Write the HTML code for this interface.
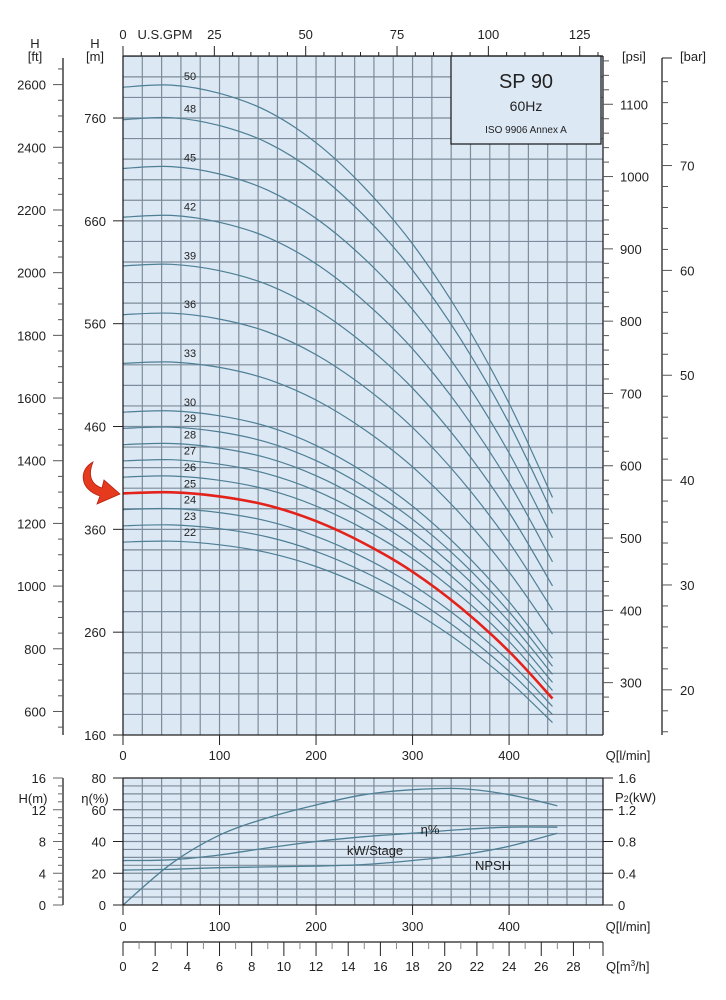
<!DOCTYPE html>
<html><head><meta charset="utf-8"><style>
html,body{margin:0;padding:0;background:#fff}
svg{display:block}
text{font-family:"Liberation Sans",sans-serif;fill:#222}
</style></head><body>
<svg id="c" width="726" height="1000" viewBox="0 0 726 1000" xmlns="http://www.w3.org/2000/svg">
<g id="g"></g>
</svg>
<script>
// ---- data ----
const flowPoints = [0, 50, 100, 150, 200, 250, 300, 350, 400, 445];
const headPerStage = [15.8, 15.84, 15.68, 15.33, 14.72, 13.85, 12.75, 11.35, 9.65, 7.82];
const stageCounts = [22, 23, 24, 25, 26, 27, 28, 29, 30, 33, 36, 39, 42, 45, 48, 50];
const highlightedStage = 25;
const effFlow = [0, 50, 100, 150, 200, 250, 300, 350, 400, 450];
const efficiency = [0, 26, 44, 55, 63, 69.5, 72.6, 73.3, 69.5, 62.5];
const powerPerStage = [0.56, 0.57, 0.63, 0.72, 0.8, 0.86, 0.905, 0.95, 0.98, 0.98];
const npsh = [4.4, 4.5, 4.7, 4.8, 4.9, 5.1, 5.6, 6.3, 7.4, 9.05];
const qTicks = [0, 100, 200, 300, 400];
const hmTicks = [160, 260, 360, 460, 560, 660, 760];
const ftTicks = [600, 800, 1000, 1200, 1400, 1600, 1800, 2000, 2200, 2400, 2600];
const psiTicks = [300, 400, 500, 600, 700, 800, 900, 1000, 1100];
const barTicks = [20, 30, 40, 50, 60, 70];
const gpmTicks = [0, 25, 50, 75, 100, 125];
const effTicks = [0, 20, 40, 60, 80];
const npshTicks = [0, 4, 8, 12, 16];
const kwTicks = ['0', '0.4', '0.8', '1.2', '1.6'];
const m3hTicks = [0, 2, 4, 6, 8, 10, 12, 14, 16, 18, 20, 22, 24, 26, 28];

// ---- scales ----
const X0 = 123, XR = 603;
const xq = q => X0 + q * 0.9652;
const yH = h => 735 - (h - 160) * 1.0283;
const yE = e => 905 - e * 127 / 80;
const yKW = p => yE(p * 50);
const yN = m => yE(m * 5);
const NS = 'http://www.w3.org/2000/svg';
const G = document.getElementById('g');
function el(tag, attrs, parent) {
  const e = document.createElementNS(NS, tag);
  for (const k in attrs) e.setAttribute(k, attrs[k]);
  (parent || G).appendChild(e);
  return e;
}
function txt(x, y, s, anchor, size, name) {
  const t = el('text', { x: x, y: y, 'text-anchor': anchor || 'middle', 'font-size': size || 13 });
  t.textContent = s;
  
  
  return t;
}
function line(x1, y1, x2, y2, stroke, w, name) {
  const l = el('line', { x1: x1, y1: y1, x2: x2, y2: y2, stroke: stroke || '#222', 'stroke-width': w || 1 });
  
  
  return l;
}
function smooth(pts) {
  let d = 'M' + pts[0][0] + ',' + pts[0][1];
  for (let i = 0; i < pts.length - 1; i++) {
    const p0 = pts[i - 1] || pts[i], p1 = pts[i], p2 = pts[i + 1], p3 = pts[i + 2] || p2;
    const c1 = [p1[0] + (p2[0] - p0[0]) / 6, p1[1] + (p2[1] - p0[1]) / 6];
    const c2 = [p2[0] - (p3[0] - p1[0]) / 6, p2[1] - (p3[1] - p1[1]) / 6];
    d += 'C' + c1[0].toFixed(1) + ',' + c1[1].toFixed(1) + ' ' + c2[0].toFixed(1) + ',' + c2[1].toFixed(1) + ' ' + p2[0].toFixed(1) + ',' + p2[1].toFixed(1);
  }
  return d;
}

// ---- main plot background + grid ----
const bg = el('rect', { x: X0, y: 56, width: XR - X0, height: 679, fill: '#dce8f4' });


for (let q = 20; q < 500; q += 20) line(xq(q), 56, xq(q), 735, '#7d8c9a', 1.2, 'grid-line');
for (let h = 180; h <= 820; h += 20) line(X0, yH(h), XR, yH(h), '#7d8c9a', 1.2, 'grid-line');

// ---- curves ----
stageCounts.forEach(n => {
  const pts = flowPoints.map((q, i) => [xq(q), yH(headPerStage[i] * n)]);
  const hl = n === highlightedStage;
  const p = el('path', { d: smooth(pts), fill: 'none', stroke: hl ? '#e3231b' : '#4e7f95', 'stroke-width': hl ? 2.6 : 1.2 });
  
  
  txt(190, yH(headPerStage[1] * n) - 5, String(n), 'middle', 11, 'curve-label-' + n);
});

// info box
const box = el('rect', { x: 451, y: 56, width: 150, height: 88, fill: '#dce8f4', stroke: '#222', 'stroke-width': 1.3 });


txt(526, 88, 'SP 90', 'middle', 20, 'model-name');
txt(526, 111, '60Hz', 'middle', 14, 'frequency-label');
txt(526, 133, 'ISO 9906 Annex A', 'middle', 10, 'standard-label');

// arrow
const ar = el('path', { d: 'M93,462 C78,470 80,490 100,496 L97,504 L120,494 L104,480 L102,488 C90,484 88,474 93,462 Z', fill: '#e63a1e', stroke: '#b32010', 'stroke-width': 0.8 });



// ---- main axes ----
line(X0, 56, X0, 735, '#222', 1.3, 'h-m-axis-line');
line(X0, 735, XR, 735, '#222', 1.3, 'q-axis-line');
line(X0, 56, XR, 56, '#222', 1.3, 'gpm-axis-line');
line(XR, 56, XR, 735, '#222', 1.3, 'psi-axis-line');
qTicks.forEach(q => { line(xq(q), 735, xq(q), 745); txt(xq(q), 760, String(q), 'middle', 13, 'q-tick-label'); });
txt(628, 760, 'Q[l/min]', 'middle', 13, 'q-axis-title');
for (let g = 0; g <= 130; g += 5) { const x = xq(g * 3.7854); if (x > XR) break; line(x, 56, x, g % 25 === 0 ? 46 : 52); }
gpmTicks.forEach(g => txt(xq(g * 3.7854), 39, String(g), 'middle', 13, 'gpm-tick-label'));
txt(165, 39, 'U.S.GPM', 'middle', 13, 'gpm-axis-title');
hmTicks.forEach(h => { line(113, yH(h), X0, yH(h)); txt(106, yH(h) + 5, String(h), 'end', 13, 'h-m-tick-label'); });
txt(95, 48, 'H', 'middle', 13, 'h-m-title'); txt(95, 61, '[m]', 'middle', 13, 'h-m-unit');
line(63, 58, 63, 735, '#222', 1.3, 'ft-axis-line');
for (let f = 550; f <= 2650; f += 50) { const y = yH(f / 3.2808); if (y < 58 || y > 735) continue; line(f % 200 === 0 ? 53 : 58, y, 63, y, '#555'); }
ftTicks.forEach(f => txt(46, yH(f / 3.2808) + 5, String(f), 'end', 13, 'ft-tick-label'));
txt(35, 48, 'H', 'middle', 13, 'h-ft-title'); txt(35, 61, '[ft]', 'middle', 13, 'h-ft-unit');
for (let p = 260; p <= 1160; p += 20) { const y = yH(p * 0.70307); if (y < 58 || y > 735) continue; line(XR, y, XR + (p % 100 === 0 ? 10 : 6), y, '#555'); }
psiTicks.forEach(p => txt(620, yH(p * 0.70307) + 5, String(p), 'start', 13, 'psi-tick-label'));
txt(622, 61, '[psi]', 'start', 13, 'psi-title');
line(662, 58, 662, 735, '#222', 1.3, 'bar-axis-line');
for (let b = 16; b <= 78; b += 2) { const y = yH(b * 10.197); if (y < 58 || y > 735) continue; line(662, y, b % 10 === 0 ? 672 : 668, y, '#555'); }
line(662, 58, 672, 58);
barTicks.forEach(b => txt(680, yH(b * 10.197) + 5, String(b), 'start', 13, 'bar-tick-label'));
txt(680, 61, '[bar]', 'start', 13, 'bar-title');

// ---- bottom plot ----
const bg2 = el('rect', { x: X0, y: 778, width: XR - X0, height: 127, fill: '#dce8f4' });


for (let q = 20; q < 500; q += 20) line(xq(q), 778, xq(q), 905, '#7d8c9a', 1.2, 'grid-line');
for (let e = 5; e < 80; e += 5) line(X0, yE(e), XR, yE(e), '#7d8c9a', 1.2, 'grid-line');
const ce = el('path', { d: smooth(effFlow.map((q, i) => [xq(q), yE(efficiency[i])])), fill: 'none', stroke: '#4e7f95', 'stroke-width': 1.3 });
 
const cp = el('path', { d: smooth(effFlow.map((q, i) => [xq(q), yKW(powerPerStage[i])])), fill: 'none', stroke: '#4e7f95', 'stroke-width': 1.3 });
 
const cn = el('path', { d: smooth(effFlow.map((q, i) => [xq(q), yN(npsh[i])])), fill: 'none', stroke: '#4e7f95', 'stroke-width': 1.3 });
 
txt(430, 834, 'η%', 'middle', 13, 'efficiency-label');
txt(375, 855, 'kW/Stage', 'middle', 13, 'power-label');
txt(493, 870, 'NPSH', 'middle', 13, 'npsh-label');
line(X0, 778, XR, 778, '#222', 1.3, 'lower-top-border');
line(X0, 778, X0, 905, '#222', 1.3, 'eff-axis-line');
line(X0, 905, XR, 905, '#222', 1.3, 'lower-q-axis-line');
line(XR, 778, XR, 905, '#222', 1.3, 'kw-axis-line');
effTicks.forEach(e => { line(113, yE(e), X0, yE(e)); txt(106, yE(e) + 5, String(e), 'end', 13, 'eff-tick-label'); });
txt(95, 803, 'η(%)', 'middle', 13, 'eff-title');
kwTicks.forEach(k => { line(XR, yKW(+k), XR + 10, yKW(+k)); txt(618, yKW(+k) + 5, k, 'start', 13, 'kw-tick-label'); });
const pt = txt(615, 802, 'P', 'start', 13, 'kw-title');
const ts = el('tspan', { 'font-size': 9 }, pt); ts.textContent = '2';
const ts2 = el('tspan', {}, pt); ts2.textContent = '(kW)';
line(63, 778, 63, 905, '#222', 1.3, 'npsh-axis-line');
for (let m = 0; m <= 16; m++) line(m % 4 === 0 ? 53 : 58, yN(m), 63, yN(m), '#666');
npshTicks.forEach(m => txt(46, yN(m) + 5, String(m), 'end', 13, 'npsh-tick-label'));
txt(33, 803, 'H(m)', 'middle', 13, 'npsh-title');
qTicks.forEach(q => { line(xq(q), 905, xq(q), 915); txt(xq(q), 931, String(q), 'middle', 13, 'q-tick-label'); });
txt(628, 931, 'Q[l/min]', 'middle', 13, 'q-axis-title');
line(X0, 942, XR, 942, '#222', 1.3, 'm3h-axis-line');
for (let m = 0; m <= 29; m++) { const x = xq(m * 1000 / 60); if (x > XR + 1) break; line(x, 942, x, m % 2 === 0 ? 956 : 949, m % 2 === 0 ? '#222' : '#888'); }
line(XR, 942, XR, 956);
m3hTicks.forEach(m => txt(xq(m * 1000 / 60), 971, String(m), 'middle', 13, 'm3h-tick-label'));
const mt = txt(606, 971, 'Q[m', 'start', 13, 'm3h-title');
const s3 = el('tspan', { 'font-size': 8, dy: -5 }, mt); s3.textContent = '3';
const s4 = el('tspan', { dy: 5 }, mt); s4.textContent = '/h]';
</script>
</body></html>
